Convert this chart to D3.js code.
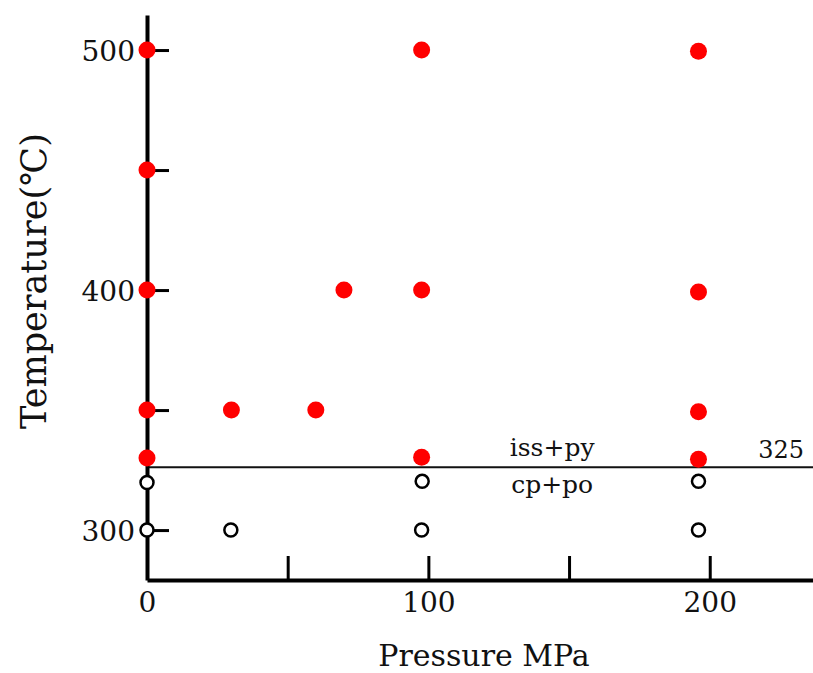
<!DOCTYPE html>
<html>
<head>
<meta charset="utf-8">
<script src="https://cdn.jsdelivr.net/npm/d3@7"></script>
<style>
  html, body { margin: 0; padding: 0; background: #fff; }
  svg { display: block; }
</style>
</head>
<body>
<svg id="chart" width="813" height="673"></svg>
<script>
// ---- data ----
const redPressure = [0, 0, 0, 0, 0, 30, 60, 70, 97.6, 97.6, 97.6, 196, 196, 196, 196];
const redTemp     = [500, 450, 400, 350, 330, 350, 350, 400, 500, 400, 330.3, 499.5, 399.2, 349.3, 329.5];
const openPressure = [0, 0, 29.8, 97.8, 97.6, 196, 196];
const openTemp     = [319.8, 300, 300, 320.3, 300, 320.3, 300];
const boundaryTemp = 326.2;
const boundaryLabel = "325";
const upperPhase = "iss+py";
const lowerPhase = "cp+po";
const xTicks = [0, 50, 100, 150, 200];
const xTickLabels = [0, 100, 200];
const yTicks = [300, 350, 400, 450, 500];
const yTickLabels = [300, 400, 500];
const xDomain = [0, 236.7];
const yDomain = [279.2, 514.6];
const xTitle = "Pressure MPa";
const yTitle = "Temperature(℃)";

// ---- layout ----
const FONT = "'DejaVu Serif', 'Liberation Serif', serif";
const svg = d3.select("#chart");
const x = d3.scaleLinear().domain(xDomain).range([147, 813]);
const y = d3.scaleLinear().domain(yDomain).range([580, 15]);

// boundary line
svg.append("line")
  .attr("x1", x(xDomain[0])).attr("x2", x(xDomain[1]))
  .attr("y1", y(boundaryTemp)).attr("y2", y(boundaryTemp))
  .attr("stroke", "#111").attr("stroke-width", 2);

// axes
const yAxis = d3.axisLeft(y).tickValues(yTicks).tickSizeInner(-22).tickSizeOuter(0).tickPadding(12)
  .tickFormat(d => yTickLabels.includes(d) ? String(d) : "");
const gy = svg.append("g").attr("transform", `translate(${x(0)},0)`).call(yAxis);
gy.select(".domain").attr("stroke", "#000").attr("stroke-width", 4);
gy.selectAll(".tick line").attr("stroke", "#000").attr("stroke-width", 3);
gy.selectAll(".tick text").attr("font-family", FONT).attr("font-size", 28).attr("fill", "#111").attr("dy", "0.36em");

const xAxis = d3.axisBottom(x).tickValues(xTicks).tickSizeInner(-24).tickSizeOuter(0).tickPadding(12)
  .tickFormat(d => xTickLabels.includes(d) ? String(d) : "");
const gx = svg.append("g").attr("transform", `translate(0,${y(yDomain[0])})`).call(xAxis);
gx.select(".domain").attr("stroke", "#000").attr("stroke-width", 4);
gx.selectAll(".tick line").attr("stroke", "#000").attr("stroke-width", 3);
gx.selectAll(".tick text").attr("font-family", FONT).attr("font-size", 28).attr("fill", "#111");

// open circles
svg.append("g").selectAll("circle")
  .data(openPressure.map((p, i) => [p, openTemp[i]]))
  .join("circle")
  .attr("cx", d => x(d[0])).attr("cy", d => y(d[1]))
  .attr("r", 6.5).attr("fill", "#fff").attr("stroke", "#000").attr("stroke-width", 2.5);

// red dots
svg.append("g").selectAll("circle")
  .data(redPressure.map((p, i) => [p, redTemp[i]]))
  .join("circle")
  .attr("cx", d => x(d[0])).attr("cy", d => y(d[1]))
  .attr("r", 8.5).attr("fill", "#ff0000");

// phase labels
svg.append("text").attr("x", x(144)).attr("y", y(boundaryTemp) - 11)
  .attr("text-anchor", "middle").attr("font-family", FONT).attr("font-size", 25).attr("fill", "#111")
  .text(upperPhase);
svg.append("text").attr("x", x(144)).attr("y", y(boundaryTemp) + 26)
  .attr("text-anchor", "middle").attr("font-family", FONT).attr("font-size", 25).attr("fill", "#111")
  .text(lowerPhase);
svg.append("text").attr("x", 804).attr("y", y(boundaryTemp) - 9)
  .attr("text-anchor", "end").attr("font-family", FONT).attr("font-size", 24).attr("fill", "#111")
  .text(boundaryLabel);

// titles
svg.append("text").attr("x", 484).attr("y", 666)
  .attr("text-anchor", "middle").attr("font-family", FONT).attr("font-size", 30).attr("fill", "#111")
  .text(xTitle);
svg.append("text").attr("transform", "translate(46,281) rotate(-90)")
  .attr("text-anchor", "middle").attr("font-family", FONT).attr("font-size", 35).attr("fill", "#111")
  .text(yTitle);
</script>
</body>
</html>
